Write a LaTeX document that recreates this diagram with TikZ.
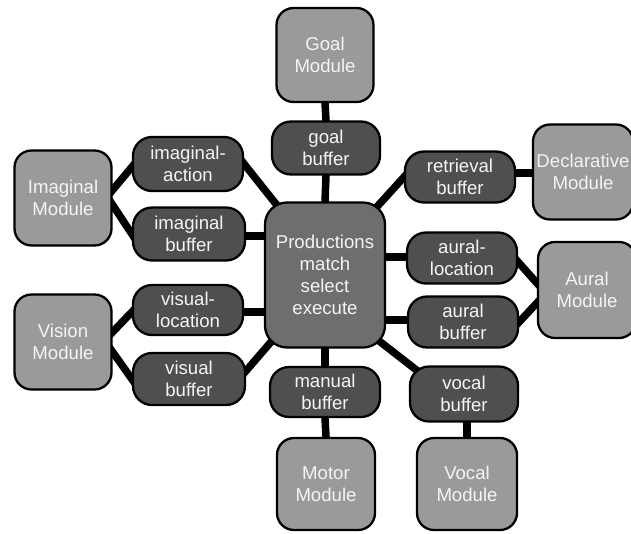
\documentclass[tikz,border=0pt]{standalone}
\usepackage{fontspec}
\setmainfont{Liberation Sans}
\usetikzlibrary{calc}
\pgfdeclarelayer{background}
\pgfsetlayers{background,main}
\definecolor{modgray}{HTML}{9A9A9A}
\definecolor{prodgray}{HTML}{6E6E6E}
\definecolor{bufgray}{HTML}{4F4F4F}
\definecolor{txtwhite}{HTML}{F4F4F4}
\tikzset{
  box/.style={rectangle, draw=black, line width=2.3pt, rounded corners=17pt,
    inner sep=0pt, align=center, text=txtwhite,
    font=\fontsize{18.6}{22}\selectfont},
  modbox/.style={box, fill=modgray, minimum width=97pt, minimum height=94pt},
  bufbox/.style={box, fill=bufgray, minimum width=110pt, minimum height=52pt, rounded corners=19pt},
  prodbox/.style={box, fill=prodgray, minimum width=120pt, minimum height=145pt, rounded corners=22pt},
  conn/.style={line width=7.5pt, black, shorten <=-8pt, shorten >=-8pt}
}
\begin{document}
\begin{tikzpicture}[x=1pt,y=-1pt]
\useasboundingbox (0,0) rectangle (631,533);
% nodes
\node[modbox] (goalmod) at (325,55) {Goal\\Module};
\node[bufbox, minimum width=108pt, minimum height=53pt] (goalbuf) at (326,148) {goal\\buffer};
\node[prodbox] (prod) at (325,275) {Productions\\match\\select\\execute};
\node[modbox, minimum height=95pt] (imgmod) at (63,198) {Imaginal\\Module};
\node[bufbox, minimum height=54pt] (imact) at (188,164) {imaginal-\\action};
\node[bufbox, minimum width=112pt, minimum height=53pt] (imbuf) at (189,234) {imaginal\\buffer};
\node[modbox, minimum height=95pt] (vismod) at (63,342) {Vision\\Module};
\node[bufbox, minimum height=50pt] (visloc) at (188,310) {visual-\\location};
\node[bufbox, minimum width=112pt] (visbuf) at (189,379) {visual\\buffer};
\node[bufbox, minimum height=51pt] (retbuf) at (460,177) {retrieval\\buffer};
\node[modbox, minimum width=100pt, minimum height=95pt] (declmod) at (583,172) {Declarative\\Module};
\node[bufbox, minimum height=51pt] (aurloc) at (462,258) {aural-\\location};
\node[modbox, minimum width=98pt, minimum height=96pt] (aurmod) at (587,290) {Aural\\Module};
\node[bufbox, minimum height=51pt] (aurbuf) at (463,322) {aural\\buffer};
\node[bufbox, minimum height=50pt] (manbuf) at (325,392) {manual\\buffer};
\node[modbox, minimum width=98pt, minimum height=92pt] (motmod) at (326,484) {Motor\\Module};
\node[bufbox, minimum width=108pt, minimum height=55pt] (vocbuf) at (464,394) {vocal\\buffer};
\node[modbox, minimum width=100pt, minimum height=92pt] (vocmod) at (467,484) {Vocal\\Module};
% connector end points
\coordinate (ibE) at ($(imbuf.east)+(0,2)$);
\coordinate (vlE) at ($(visloc.east)+(0,2)$);
\coordinate (rbE) at ($(retbuf.east)+(0,-4)$);
\coordinate (alW) at ($(aurloc.west)+(0,-1)$);
\coordinate (abW) at ($(aurbuf.west)+(0,-2)$);
% connectors
\begin{pgfonlayer}{background}
\draw[conn] ($(imgmod.east)+(0,-8)$) -- ($(imact.west)+(0,3)$);
\draw[conn] ($(imgmod.east)+(0,7)$) -- (imbuf.west);
\draw[conn] (imact.east) -- ($(prod.north west)+(10,0)$);
\draw[conn] (ibE) -- (ibE -| prod.west);
\draw[conn] (vlE) -- (vlE -| prod.west);
\draw[conn] ($(visbuf.east)+(-2,-6)$) -- ($(prod.south west)+(10,-10)$);
\draw[conn] ($(vismod.east)+(0,-10)$) -- ($(visloc.west)+(0,2)$);
\draw[conn] ($(vismod.east)+(0,10)$) -- (visbuf.west);
\draw[conn] (goalmod.south) -- (goalbuf.north);
\draw[conn] (goalbuf.south) -- (prod.north);
\draw[conn] ($(prod.north east)+(-7,3)$) -- ($(retbuf.west)+(2,-2)$);
\draw[conn] (rbE) -- (rbE -| declmod.west);
\draw[conn] (alW -| prod.east) -- (alW);
\draw[conn] (abW -| prod.east) -- (abW);
\draw[conn] ($(aurloc.east)+(0,4)$) -- ($(aurmod.west)+(0,-7)$);
\draw[conn] (aurbuf.east) -- ($(aurmod.west)+(0,13)$);
\draw[conn] ($(prod.south east)+(-10,-10)$) -- ($(vocbuf.north west)+(8,5)$);
\draw[conn] (prod.south) -- (manbuf.north);
\draw[conn] (manbuf.south) -- (motmod.north);
\draw[conn] (vocmod.north |- vocbuf.south) -- (vocmod.north);
\end{pgfonlayer}
\end{tikzpicture}
\end{document}
